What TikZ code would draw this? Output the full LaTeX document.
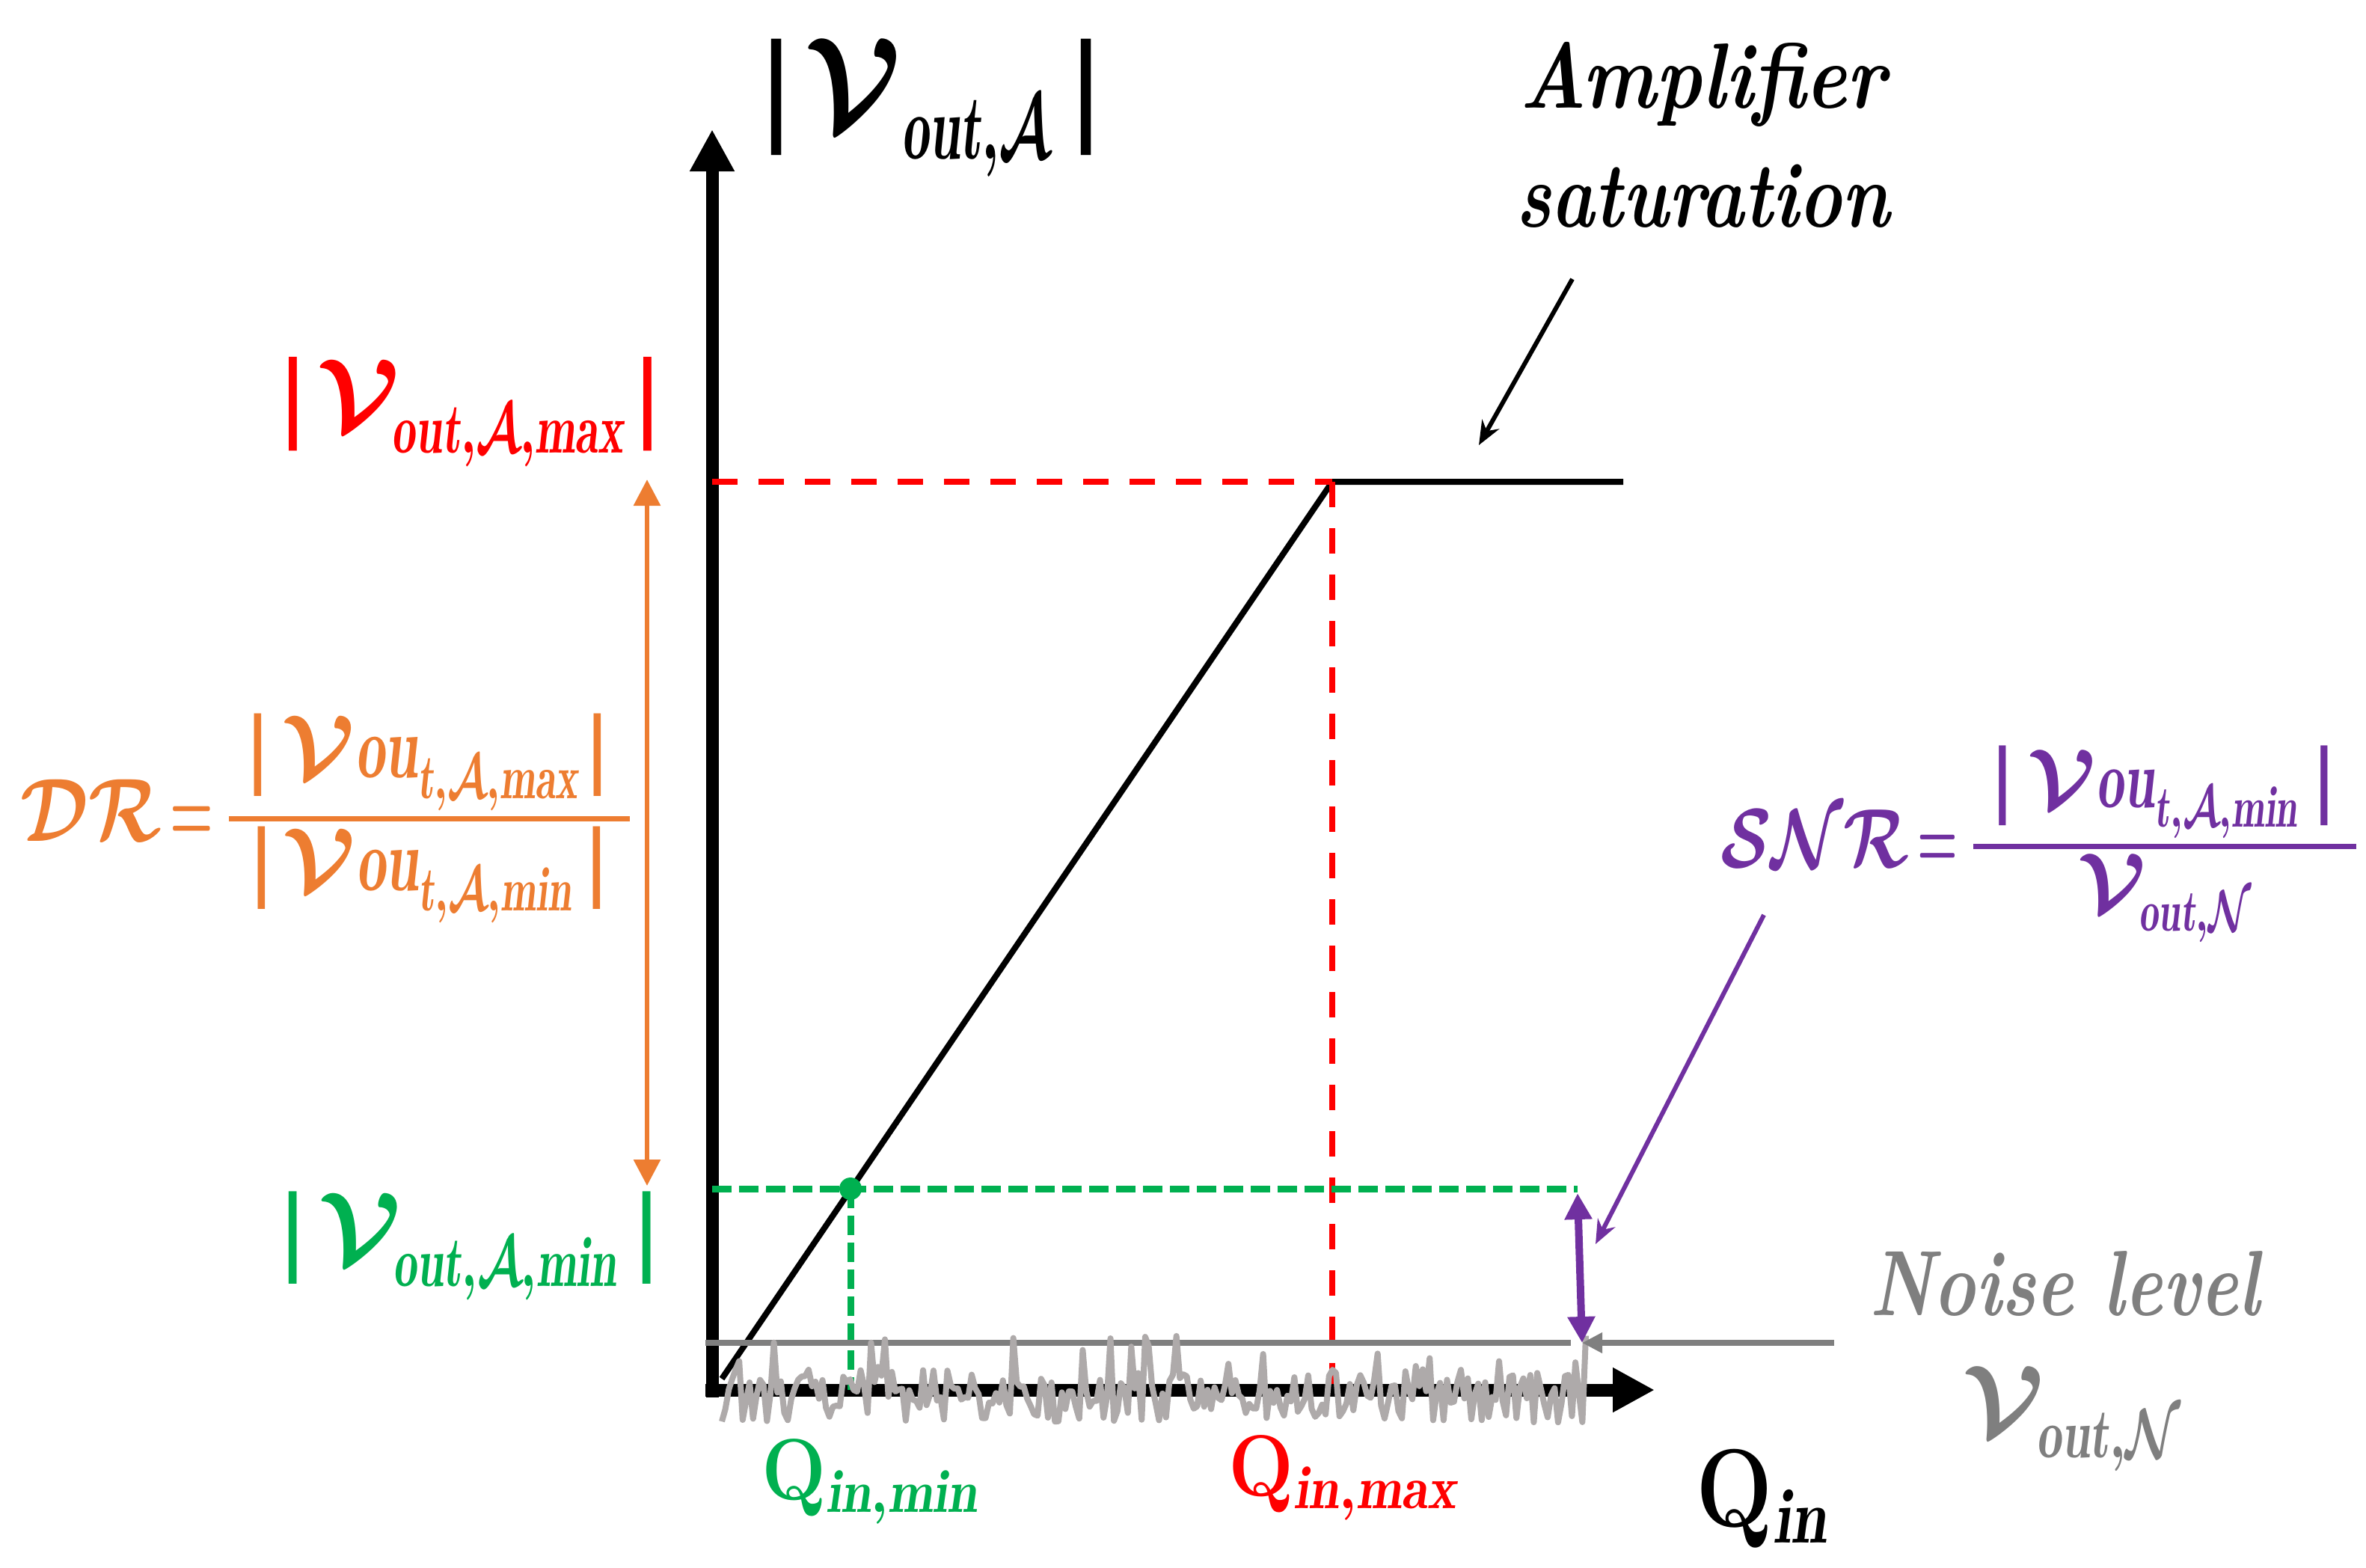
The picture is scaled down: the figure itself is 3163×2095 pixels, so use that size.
\RequirePackage{fix-cm}
\documentclass[tikz,border=0pt]{standalone}
\usepackage{graphicx}
\usepackage{fontspec}
\newfontfamily\barfont{Liberation Sans}
\newcommand{\mybar}[1]{\hbox{\barfont\fontsize{#1}{#1}\selectfont |}}
\newcommand{\cs}[2][0.67]{\raisebox{-0.08em}{\scalebox{#1}[1]{$\scriptstyle #2$}}}
\newcommand{\ct}[1]{\scalebox{0.66}[1]{$\mathit{#1}$}}
\newcommand{\cc}[2]{\scalebox{#1}[1]{$#2$}}
\usetikzlibrary{arrows.meta}
\definecolor{cred}{HTML}{FF0000}
\definecolor{cgreen}{HTML}{00B050}
\definecolor{corange}{HTML}{ED7D31}
\definecolor{cpurple}{HTML}{7030A0}
\definecolor{cgray}{HTML}{7F7F7F}
\definecolor{cnoise}{HTML}{AEAAAA}
\tikzset{
  axis/.style={line width=8.5pt,-{Triangle[length=28pt,width=28pt]}},
  curve/.style={line width=4pt,line join=miter},
  reddash/.style={cred,line width=4pt,dash pattern=on 17pt off 14pt},
  greendash/.style={cgreen,line width=4.5pt,dash pattern=on 13pt off 5pt},
  levelline/.style={cgray,line width=4pt},
  noiseline/.style={cnoise,line width=4pt,line join=round},
  lbl/.style={inner sep=0pt,outer sep=0pt},
  thinarrow/.style={line width=3pt,-{Stealth[length=16pt,width=13pt]}},
  dblarrow/.style={{Triangle[length=17.5pt,width=17.5pt]}-{Triangle[length=17.5pt,width=17.5pt]}},
}
\begin{document}
\begin{tikzpicture}[x=0.5pt,y=-0.5pt]
\useasboundingbox (0,0) rectangle (3163,2095);
% axes
\coordinate (yb) at (952,1868);
\coordinate (yt) at (952,173);
\coordinate (xb) at (943,1858);
\coordinate (xt) at (2212,1858);
\draw[axis] (yb) -- (yt);
\draw[axis] (xb) -- (xt);
% transfer curve
\coordinate (p0) at (965,1843);
\coordinate (p1) at (1781,644);
\coordinate (p2) at (2170,644);
\draw[curve] (p0) -- (p1) -- (p2);
% red dashed
\coordinate (ymax) at (952,644);
\coordinate (qmax) at (1781,1850);
\draw[reddash] (ymax) -- (p1);
\draw[reddash] (p1) -- (qmax);
% green dashed
\coordinate (ymin) at (952,1589);
\coordinate (gpt) at (1137,1589);
\coordinate (gend) at (2109,1589);
\coordinate (qmin) at (1137,1858);
\draw[greendash] (ymin) -- (gend);
\draw[greendash] (gpt) -- (qmin);
\fill[cgreen] (gpt) circle (7.5pt);
% noise level line
\coordinate (nl0) at (943,1795);
\coordinate (nl1) at (2100,1795);
\draw[levelline] (nl0) -- (nl1);
% noise
\pgfmathsetseed{271828}
\draw[noiseline] plot[domain=965:2120,samples=250,variable=\t] (\t,{1866+36*rand-45*(rnd>0.88)});
% noise level arrow
\coordinate (na0) at (2452,1795);
\coordinate (na1) at (2115,1795);
\draw[levelline,-{Triangle[length=13.5pt,width=13pt]}] (na0) -- (na1);
% SNR double arrow
\coordinate (sa0) at (2109,1595);
\coordinate (sa1) at (2115,1795);
\draw[cpurple,line width=5pt,dblarrow] (sa0) -- (sa1);
% SNR pointer
\coordinate (sp0) at (2358,1223);
\coordinate (sp1) at (2133,1663);
\draw[cpurple,thinarrow] (sp0) -- (sp1);
% amplifier pointer
\coordinate (ap0) at (2102,373);
\coordinate (ap1) at (1977,595);
\draw[thinarrow] (ap0) -- (ap1);
% DR double arrow
\coordinate (da0) at (865,641);
\coordinate (da1) at (865,1585);
\draw[corange,line width=3pt,dblarrow] (da0) -- (da1);
% labels
\node[lbl,anchor=base,font=\fontsize{88}{96}\selectfont\boldmath] (vout) at (1245,172)
  {$\mybar{83}\hspace{8pt}\cc{0.9}{\mathcal{V}}_{\cs[0.6]{\mathit{out},\mathcal{A}}}\hspace{13pt}\mybar{83}$};
\node[lbl,anchor=base,text=cred,font=\fontsize{68}{76}\selectfont\boldmath] (vmax) at (629,574)
  {$\mybar{67}\hspace{7pt}\mathcal{V}_{\cs{\mathit{out},\mathcal{A},\mathit{max}}}\hspace{7pt}\mybar{67}$};
\node[lbl,anchor=base,text=cgreen,font=\fontsize{68}{76}\selectfont\boldmath] (vmin) at (628,1688)
  {$\mybar{66}\hspace{8.5pt}\mathcal{V}_{\cs{\mathit{out},\mathcal{A},\mathit{min}}}\hspace{11.5pt}\mybar{66}$};
\node[lbl,anchor=base,text=corange,font=\fontsize{60}{70}\selectfont\boldmath] (dr) at (436,1124)
  {$\cc{0.82}{\mathcal{D}\mathcal{R}}\hspace{6pt}\cc{0.55}{=}\hspace{9pt}{\textstyle\hspace{12pt}\mybar{59}\hspace{8pt}\mathcal{V}\ct{ou}_{\cs{\mathit{t},\mathcal{A},\mathit{max}}}\hspace{5pt}\mybar{59}\hspace{14pt}\above 3.5pt\textstyle\mybar{59}\hspace{6pt}\mathcal{V}\ct{ou}_{\cs{\mathit{t},\mathcal{A},\mathit{min}}}\hspace{9pt}\mybar{59}}$};
\node[lbl,anchor=base,text=cpurple,font=\fontsize{56}{66}\selectfont\boldmath] (snr) at (2726,1159)
  {$\cc{0.79}{\mathcal{S}\mathcal{N}\mathcal{R}}\hspace{6pt}\cc{0.55}{=}\hspace{9pt}{\textstyle\hspace{12pt}\mybar{57}\hspace{9.5pt}\mathcal{V}\ct{ou}_{\cs{\mathit{t},\mathcal{A},\mathit{min}}}\hspace{10.5pt}\mybar{57}\hspace{13.5pt}\above 3.5pt\textstyle\mathcal{V}_{\cs{\mathit{out},\mathcal{N}}}}$};
\node[lbl,anchor=base,text=cgray,font=\fontsize{62}{70}\selectfont\bfseries\itshape] (noise) at (2760,1758)
  {\scalebox{0.77}[1]{Noise level}};
\node[lbl,anchor=base,text=cgray,font=\fontsize{67}{76}\selectfont\boldmath] (voutn) at (2770,1918)
  {$\mathcal{V}_{\cs[0.72]{\mathit{out},\mathcal{N}}}$};
\node[lbl,anchor=center,align=center,font=\fontsize{62}{79.5}\selectfont\bfseries\itshape] (amp) at (2276,180)
  {\scalebox{0.84}[1]{Amplifier}\\\scalebox{0.79}[1]{saturation}};
\node[lbl,anchor=base,text=cgreen,font=\fontsize{58}{66}\selectfont\boldmath] (qminl) at (1163,2004)
  {\scalebox{0.88}[1]{$\mathbf{Q}_{\mathit{in},\mathit{min}}$}};
\node[lbl,anchor=base,text=cred,font=\fontsize{58}{66}\selectfont\boldmath] (qmaxl) at (1795,1999)
  {\scalebox{0.89}[1]{$\mathbf{Q}_{\mathit{in},\mathit{max}}$}};
\node[lbl,anchor=base,font=\fontsize{74}{82}\selectfont\boldmath] (qin) at (2355,2040)
  {\scalebox{0.82}[1]{$\mathbf{Q}_{\mathit{in}}$}};
\end{tikzpicture}
\end{document}
